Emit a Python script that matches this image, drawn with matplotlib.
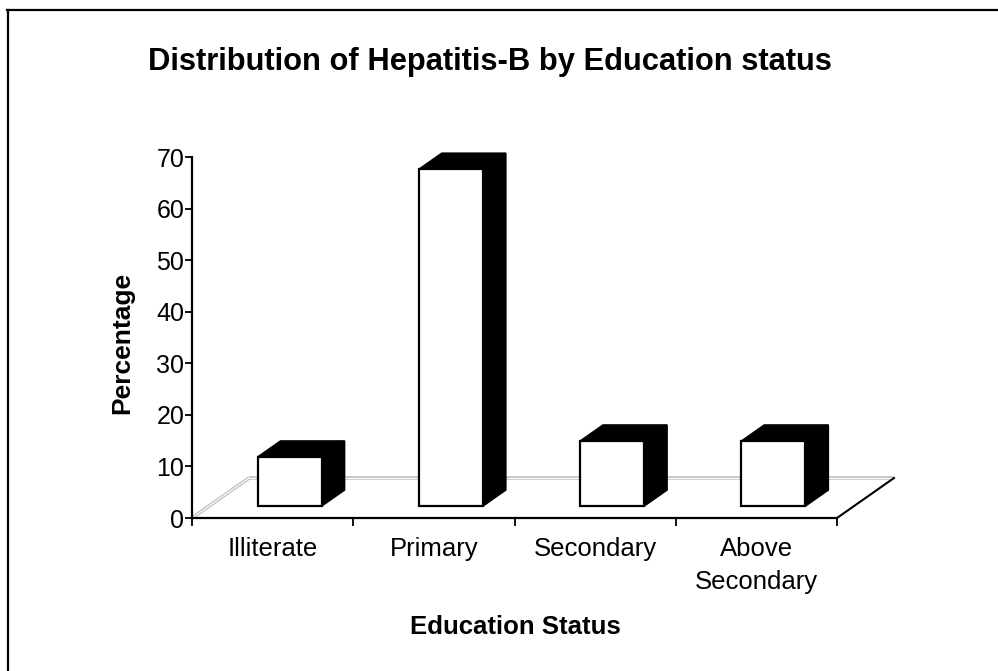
import matplotlib
matplotlib.use("Agg")
import matplotlib.pyplot as plt
from matplotlib.patches import Polygon, Rectangle
from matplotlib.lines import Line2D

plt.rcParams['font.family'] = ['Liberation Sans', 'DejaVu Sans']

categories = ["Illiterate", "Primary", "Secondary", "Above\nSecondary"]
values = [9.5, 65.3, 12.6, 12.6]
yticks = [0, 10, 20, 30, 40, 50, 60, 70]
title = "Distribution of Hepatitis-B by Education status"
xlabel = "Education Status"
ylabel = "Percentage"

W, H = 998, 671
fig = plt.figure(figsize=(W / 100, H / 100), dpi=100)
fig.patch.set_facecolor("white")

# axes placed in pixel geometry
left_px, right_px, bottom_px, top_px = 192, 837, 518, 157
ax = fig.add_axes([left_px / W, 1 - bottom_px / H,
                   (right_px - left_px) / W, (bottom_px - top_px) / H])
n = len(categories)
ax.set_xlim(0, n)
ax.set_ylim(0, 70)
ax.set_facecolor("none")

# oblique depth offset (in data units)
px_per_x = (right_px - left_px) / n
px_per_y = (bottom_px - top_px) / 70.0
DX = 57 / px_per_x
DY = 40 / px_per_y
f0, f1 = 0.3, 0.7
bw = 64 / px_per_x

# floor
gray = "#c0c0c0"
for (xs, ys) in [([0, DX], [0, DY]), ([DX, n + DX], [DY, DY])]:
    ax.plot(xs, ys, color=gray, lw=2.6, clip_on=False, zorder=1, solid_capstyle="butt")
    ax.plot(xs, ys, color="white", lw=0.8, clip_on=False, zorder=1.1, solid_capstyle="butt")
ax.plot([n, n + DX], [0, DY], color="black", lw=1.5, clip_on=False, zorder=1.2)

# bars
for i, v in enumerate(values):
    xl = i + 0.5 - bw / 2 + f0 * DX
    xr = xl + bw
    base = f0 * DY
    top = base + v
    ddx = (f1 - f0) * DX
    ddy = (f1 - f0) * DY
    right_face = Polygon([(xr, base), (xr + ddx, base + ddy), (xr + ddx, top + ddy), (xr, top)],
                         closed=True, facecolor="black", edgecolor="black", lw=1.2,
                         clip_on=False, zorder=3)
    top_face = Polygon([(xl, top), (xl + ddx, top + ddy), (xr + ddx, top + ddy), (xr, top)],
                       closed=True, facecolor="black", edgecolor="black", lw=1.2,
                       clip_on=False, zorder=3)
    front = Rectangle((xl, base), bw, v, facecolor="white", edgecolor="black", lw=1.6,
                      clip_on=False, zorder=4)
    ax.add_patch(right_face)
    ax.add_patch(top_face)
    ax.add_patch(front)

# spines
for s in ["top", "right"]:
    ax.spines[s].set_visible(False)
for s in ["left", "bottom"]:
    ax.spines[s].set_linewidth(1.6)
    ax.spines[s].set_zorder(5)

ax.set_yticks(yticks)
ax.set_yticklabels([str(t) for t in yticks])
ax.tick_params(axis="y", direction="out", length=5, width=1.3, pad=0.5, labelsize=18)

ax.set_xticks(range(n + 1))
ax.set_xticklabels([""] * (n + 1))
ax.tick_params(axis="x", which="major", direction="out", length=6, width=1.3)
ax.set_xticks([i + 0.5 for i in range(n)], minor=True)
ax.set_xticklabels(categories, minor=True, fontsize=18.5, linespacing=1.45)
ax.tick_params(axis="x", which="minor", length=0, pad=14)

# texts
fig.text(490 / W, 1 - 62 / H, title, ha="center", va="center",
         fontsize=22.2, fontweight="bold")
fig.text(515 / W, 1 - 627 / H, xlabel, ha="center", va="center",
         fontsize=18.5, fontweight="bold")
fig.text(122 / W, 1 - 343 / H, ylabel, ha="center", va="center",
         fontsize=19, fontweight="bold", rotation=90)

# outer border (top and left only visible)
fig.add_artist(Line2D([7 / W, 1], [1 - 10 / H, 1 - 10 / H], color="black", lw=1.6,
                      transform=fig.transFigure))
fig.add_artist(Line2D([8 / W, 8 / W], [0, 1 - 10 / H], color="black", lw=1.6,
                      transform=fig.transFigure))

fig.savefig("out.png", dpi=100, facecolor="white")
